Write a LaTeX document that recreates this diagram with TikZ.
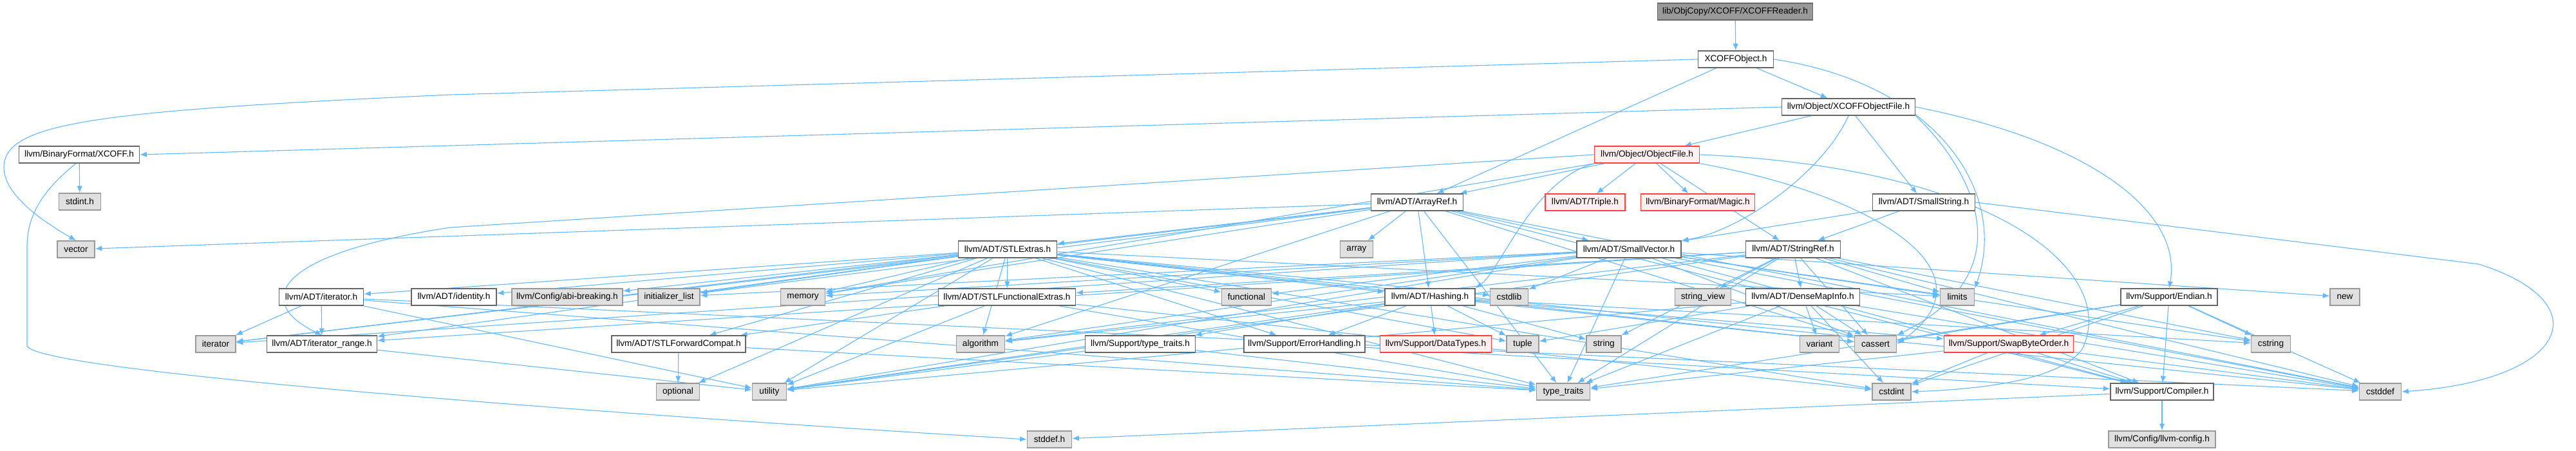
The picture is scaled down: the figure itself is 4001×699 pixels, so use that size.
\documentclass[tikz,border=0pt]{standalone}
\usepackage{fontspec}
\setmainfont{Liberation Sans}
\usepackage{xcolor}
\usetikzlibrary{arrows.meta,backgrounds}
\definecolor{edgeblue}{RGB}{99,184,255}
\definecolor{hdrdraw}{RGB}{102,102,102}
\definecolor{sysfill}{RGB}{224,224,224}
\definecolor{sysdraw}{RGB}{153,153,153}
\definecolor{rootfill}{RGB}{153,153,153}
\definecolor{truncdraw}{RGB}{255,64,64}
\definecolor{truncfill}{RGB}{255,240,240}
\tikzset{
  box/.style={rectangle, inner sep=0pt, minimum height=0.65cm, line width=1.1pt,
              font=\fontsize{9.7}{11}\selectfont},
  wd/.style={minimum width={#1*0.025cm}},
  hdr/.style={box, draw=hdrdraw, fill=white},
  sys/.style={box, draw=sysdraw, fill=sysfill},
  trunc/.style={box, draw=truncdraw, fill=truncfill},
  root/.style={box, draw=hdrdraw, fill=rootfill},
  dep/.style={draw=edgeblue, line width=0.8pt, -{Latex[length=7.5pt,width=6pt]}}
}

\begin{document}
\begin{tikzpicture}[x=0.025cm, y=-0.025cm]
  \path[use as bounding box] (0,0) rectangle (4001,699);

  % rangée 0 a 2
  \node[root, wd=241] (root) at (2695,18) {lib/ObjCopy/XCOFF/XCOFFReader.h};
  \node[hdr, wd=117] (xobj) at (2696,92) {XCOFFObject.h};
  \node[hdr, wd=207] (xobjfile) at (2871,166) {llvm/Object/XCOFFObjectFile.h};
  \node[hdr, wd=187] (bfxcoff) at (123,240) {llvm/BinaryFormat/XCOFF.h};
  \node[trunc, wd=163] (objfile) at (2558,240) {llvm/Object/ObjectFile.h};

  % rangée 3
  \node[sys, wd=65] (stdint) at (124,313) {stdint.h};
  \node[hdr, wd=143] (arrayref) at (2201,314) {llvm/ADT/ArrayRef.h};
  \node[trunc, wd=124] (triple) at (2462,314) {llvm/ADT/Triple.h};
  \node[trunc, wd=177] (magic) at (2637,314) {llvm/BinaryFormat/Magic.h};
  \node[hdr, wd=159] (smallstring) at (2988,314) {llvm/ADT/SmallString.h};

  % rangée 4
  \node[sys, wd=58] (vector) at (118,387) {vector};
  \node[hdr, wd=153] (stlextras) at (1565,387) {llvm/ADT/STLExtras.h};
  \node[sys, wd=51] (array) at (2107,387) {array};
  \node[hdr, wd=162] (smallvector) at (2530,387) {llvm/ADT/SmallVector.h};
  \node[hdr, wd=147] (stringref) at (2785,387) {llvm/ADT/StringRef.h};

  % rangée 5
  \node[hdr, wd=131] (iteratorh) at (499,461) {llvm/ADT/iterator.h};
  \node[hdr, wd=132] (identity) at (705,461) {llvm/ADT/identity.h};
  \node[sys, wd=172] (abibreak) at (881,461) {llvm/Config/abi-breaking.h};
  \node[sys, wd=96] (initlist) at (1039,461) {initializer\_list};
  \node[sys, wd=69] (memory) at (1247,461) {memory};
  \node[hdr, wd=213] (stlfunc) at (1564,461) {llvm/ADT/STLFunctionalExtras.h};
  \node[sys, wd=77] (functional) at (1936,461) {functional};
  \node[hdr, wd=140] (hashing) at (2221,461) {llvm/ADT/Hashing.h};
  \node[sys, wd=59] (cstdlib) at (2344,461) {cstdlib};
  \node[sys, wd=87] (stringview) at (2645,461) {string\_view};
  \node[hdr, wd=177] (densemap) at (2800,461) {llvm/ADT/DenseMapInfo.h};
  \node[sys, wd=53] (limits) at (3040,461) {limits};
  \node[hdr, wd=150] (endian) at (3369,461) {llvm/Support/Endian.h};
  \node[sys, wd=46] (new) at (3642,461) {new};

  % rangée 6
  \node[sys, wd=62] (iterator) at (335,534) {iterator};
  \node[hdr, wd=171] (itrange) at (500,534) {llvm/ADT/iterator\_range.h};
  \node[hdr, wd=208] (stlfwd) at (1054,534) {llvm/ADT/STLForwardCompat.h};
  \node[sys, wd=75] (algorithm) at (1523,534) {algorithm};
  \node[hdr, wd=171] (typetraitsh) at (1771,534) {llvm/Support/type\_traits.h};
  \node[hdr, wd=188] (errhandling) at (2026,534) {llvm/Support/ErrorHandling.h};
  \node[trunc, wd=173] (datatypes) at (2230,534) {llvm/Support/DataTypes.h};
  \node[sys, wd=50] (tuple) at (2365,534) {tuple};
  \node[sys, wd=54] (string) at (2491,534) {string};
  \node[sys, wd=61] (variant) at (2826,534) {variant};
  \node[sys, wd=65] (cassert) at (2913,534) {cassert};
  \node[trunc, wd=201] (swapbyte) at (3120,534) {llvm/Support/SwapByteOrder.h};
  \node[sys, wd=61] (cstring) at (3527,534) {cstring};

  % rangée 7 et 8
  \node[sys, wd=67] (optional) at (1053,608) {optional};
  \node[sys, wd=53] (utility) at (1195,608) {utility};
  \node[sys, wd=83] (typetraits) at (2428,608) {type\_traits};
  \node[sys, wd=60] (cstdint) at (2938,608) {cstdint};
  \node[hdr, wd=160] (compiler) at (3358,608) {llvm/Support/Compiler.h};
  \node[sys, wd=65] (cstddef) at (3697,608) {cstddef};
  \node[sys, wd=69] (stddef) at (1630,682) {stddef.h};
  \node[sys, wd=166] (llvmconfig) at (3358,682) {llvm/Config/llvm-config.h};

  \begin{scope}[on background layer]
    % dépendances du haut
    \draw[dep] (root) -- (xobj);
    \draw[dep] (xobj) -- (arrayref);
    \draw[dep] (xobj) -- (xobjfile);
    \draw[dep] (xobj.west) -- (700,147) .. controls (150,172) and (6,190) .. (6,260)
      .. controls (6,300) and (60,340) .. (vector.north);
    \draw[dep] (xobj.east) .. controls (3010,130) and (3120,300) .. (limits.north east);

    \draw[dep] (xobjfile.west) -- (bfxcoff.east);
    \draw[dep] (xobjfile) -- (objfile);
    \draw[dep] (xobjfile) -- (smallstring);
    \draw[dep] (xobjfile.south) .. controls (2830,270) and (2700,360) .. (smallvector.north east);
    \draw[dep] (xobjfile.east) .. controls (3250,220) and (3390,330) .. (endian.north);
    \draw[dep] (xobjfile.south east) .. controls (3060,260) and (3150,420) .. (cassert.north east);

    \draw[dep] (bfxcoff) -- (stdint);
    \draw[dep] (bfxcoff.250) .. controls (60,300) and (42,340) .. (42,384) -- (42,536)
      .. controls (42,575) and (900,640) .. (stddef.west);

    \foreach \t in {arrayref,triple,magic,stringref,memory}
      \draw[dep] (objfile) -- (\t);
    \draw[dep] (objfile.west) -- (700,353) .. controls (420,395) and (395,470) .. (itrange.north);
    \draw[dep] (objfile.south west) .. controls (2380,280) and (2330,420) .. (hashing.north east);
    \draw[dep] (objfile.east) .. controls (3100,260) and (3290,420) .. (3235,540)
      .. controls (3200,595) and (3050,605) .. (cstdint.east);
    \draw[dep] (objfile.south east) .. controls (2900,300) and (3110,420) .. (cassert.east);

    % ADT
    \foreach \t in {hashing,smallvector,stlextras,compiler,algorithm,array,cassert,cstddef,
                    initlist,iterator,memory,typetraits,vector}
      \draw[dep] (arrayref) -- (\t);
    \foreach \t in {compiler,algorithm,cassert,cstddef,cstdlib,cstring,functional,initlist,
                    iterator,limits,memory,new,typetraits,utility}
      \draw[dep] (smallvector) -- (\t);
    \foreach \t in {hashing,stlfwd,stlfunc,identity,iteratorh,itrange,abibreak,errhandling,
                    algorithm,cassert,cstddef,cstdint,cstdlib,functional,initlist,iterator,
                    limits,memory,optional,tuple,typetraits,utility}
      \draw[dep] (stlextras) -- (\t);
    \foreach \t in {datatypes,errhandling,swapbyte,typetraitsh,algorithm,cassert,cstring,
                    string,tuple,utility}
      \draw[dep] (hashing) -- (\t);
    \foreach \t in {stlfwd,cstdint,typetraits,utility}
      \draw[dep] (stlfunc) -- (\t);
    \foreach \t in {optional,typetraits}
      \draw[dep] (stlfwd) -- (\t);
    \foreach \t in {itrange,iterator,cstddef,typetraits,utility}
      \draw[dep] (iteratorh) -- (\t);
    \draw[dep] (itrange) -- (utility);
    \foreach \t in {variant,cassert,cstddef,cstdint,tuple,typetraits,utility}
      \draw[dep] (densemap) -- (\t);
    \foreach \t in {densemap,stlfunc,itrange,compiler,algorithm,cassert,cstddef,cstring,
                    limits,string,stringview,typetraits,utility}
      \draw[dep] (stringref) -- (\t);
    \foreach \t in {smallvector,stringref}
      \draw[dep] (smallstring) -- (\t);
    \draw[dep] (smallstring.east) -- (3850,410) .. controls (4040,470) and (3990,590) .. (cstddef.east);

    % Support
    \foreach \t in {typetraits,utility}
      \draw[dep] (typetraitsh) -- (\t);
    \draw[dep] (errhandling) -- (compiler);
    \foreach \t in {cstdint,compiler,cstddef,typetraits}
      \draw[dep] (swapbyte) -- (\t);
    \foreach \t in {compiler,swapbyte,cassert,cstddef,cstdint,cstring,typetraits}
      \draw[dep] (endian) -- (\t);
    \draw[dep] (compiler) -- (llvmconfig);
    \draw[dep] (compiler) -- (stddef);
  \end{scope}
\end{tikzpicture}
\end{document}
